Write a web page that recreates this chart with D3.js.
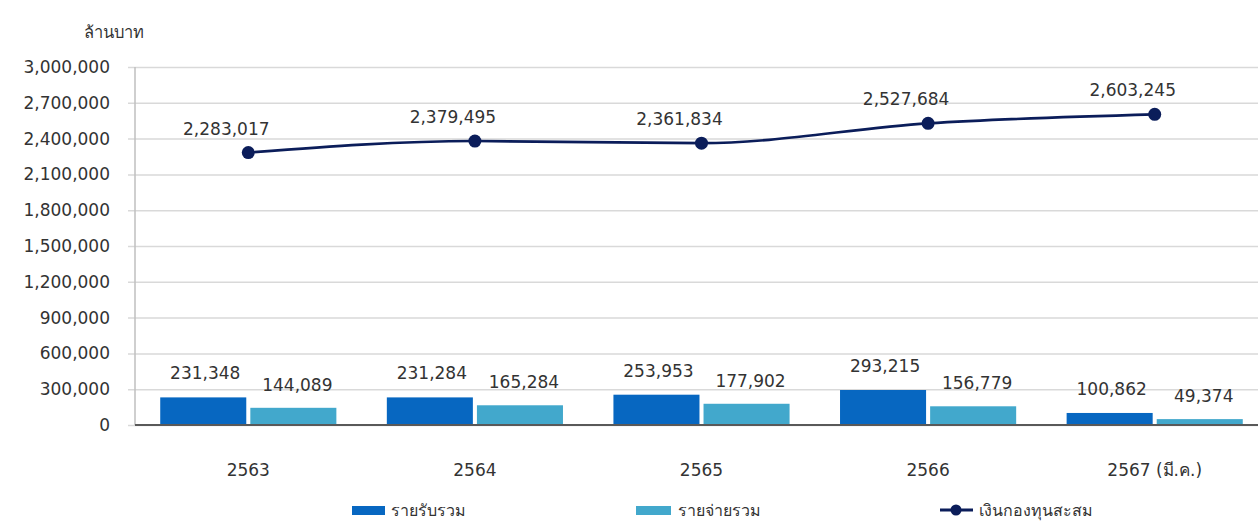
<!DOCTYPE html>
<html>
<head>
<meta charset="utf-8">
<script src="https://cdn.jsdelivr.net/npm/d3@7"></script>
<style>
  body { margin: 0; background: #fff; overflow: hidden; }
  svg { display: block; font-family: "DejaVu Sans", sans-serif; }
</style>
</head>
<body>
<div id="chart"></div>
<script>
const years = ["2563", "2564", "2565", "2566", "2567 (มี.ค.)"];
const income = [231348, 231284, 253953, 293215, 100862];
const expense = [144089, 165284, 177902, 156779, 49374];
const fund = [2283017, 2379495, 2361834, 2527684, 2603245];
const yTicks = [0, 300000, 600000, 900000, 1200000, 1500000, 1800000, 2100000, 2400000, 2700000, 3000000];
const seriesNames = ["รายรับรวม", "รายจ่ายรวม", "เงินกองทุนสะสม"];

const width = 1258, height = 527;
// the original picture is cut off on the right, so the plot runs past the edge
const margin = { top: 67, right: -10, bottom: 102, left: 135 };
const fmt = d3.format(",");
const darkBlue = "#0767c1", lightBlue = "#42a8cc", navy = "#0b1d5a";
const fs = 17;

const svg = d3.select("#chart").append("svg")
    .attr("width", width)
    .attr("height", height);

const x = d3.scaleBand()
    .domain(years)
    .range([margin.left, width - margin.right]);

const y = d3.scaleLinear()
    .domain([0, 3000000])
    .range([height - margin.bottom, margin.top]);

const inner = d3.scaleBand()
    .domain(["income", "expense"])
    .range([0, x.bandwidth()])
    .paddingInner(0.045)
    .paddingOuter(0.28);

const cx = d => x(d) + x.bandwidth() / 2;

// gridlines + y axis
svg.append("g")
    .attr("transform", `translate(${margin.left},0)`)
    .call(d3.axisLeft(y).tickValues(yTicks).tickFormat(fmt)
        .tickSize(-(width - margin.left)).tickPadding(25))
    .attr("font-family", null)
    .call(g => g.select(".domain").remove())
    .call(g => g.selectAll(".tick line").attr("stroke", "#d9d9d9").attr("stroke-width", 1.5).attr("x1", -7))
    .call(g => g.selectAll(".tick text").attr("fill", "#333").attr("font-size", fs));

svg.append("line")
    .attr("x1", margin.left).attr("x2", margin.left)
    .attr("y1", margin.top).attr("y2", y(0))
    .attr("stroke", "#bfbfbf").attr("stroke-width", 1.5);

svg.append("text")
    .attr("x", 84).attr("y", 38)
    .attr("font-size", 16.5).attr("fill", "#333")
    .text("ล้านบาท");

// bars
const groups = svg.append("g")
    .selectAll("g")
    .data(years.map((yr, i) => ({ yr, income: income[i], expense: expense[i] })))
    .join("g")
    .attr("transform", d => `translate(${x(d.yr)},0)`);

groups.append("rect")
    .attr("x", inner("income"))
    .attr("width", inner.bandwidth())
    .attr("y", d => y(d.income))
    .attr("height", d => y(0) - y(d.income))
    .attr("fill", darkBlue);

groups.append("rect")
    .attr("x", inner("expense"))
    .attr("width", inner.bandwidth())
    .attr("y", d => y(d.expense))
    .attr("height", d => y(0) - y(d.expense))
    .attr("fill", lightBlue);

groups.append("text")
    .attr("x", inner("income") + inner.bandwidth() / 2 + 2)
    .attr("y", d => y(d.income) - 18)
    .attr("text-anchor", "middle")
    .attr("font-size", fs).attr("fill", "#333")
    .text(d => fmt(d.income));

groups.append("text")
    .attr("x", inner("expense") + inner.bandwidth() / 2 + 4)
    .attr("y", d => y(d.expense) - 17)
    .attr("text-anchor", "middle")
    .attr("font-size", fs).attr("fill", "#333")
    .text(d => fmt(d.expense));

// baseline
svg.append("line")
    .attr("x1", margin.left).attr("x2", width)
    .attr("y1", y(0)).attr("y2", y(0))
    .attr("stroke", "#595959").attr("stroke-width", 2);

// x labels
svg.append("g")
    .selectAll("text")
    .data(years)
    .join("text")
    .attr("x", cx)
    .attr("y", 476)
    .attr("text-anchor", "middle")
    .attr("font-size", fs).attr("fill", "#333")
    .text(d => d);

// accumulated fund line
const line = d3.line()
    .x((d, i) => cx(years[i]))
    .y(d => y(d))
    .curve(d3.curveMonotoneX);

svg.append("path")
    .datum(fund)
    .attr("fill", "none")
    .attr("stroke", navy)
    .attr("stroke-width", 2.6)
    .attr("d", line);

svg.append("g")
    .selectAll("circle")
    .data(fund)
    .join("circle")
    .attr("cx", (d, i) => cx(years[i]))
    .attr("cy", d => y(d))
    .attr("r", 6.5)
    .attr("fill", navy);

svg.append("g")
    .selectAll("text")
    .data(fund)
    .join("text")
    .attr("x", (d, i) => cx(years[i]) - 22)
    .attr("y", d => y(d) - 18)
    .attr("text-anchor", "middle")
    .attr("font-size", fs).attr("fill", "#333")
    .text(d => fmt(d));

// legend
const legend = svg.append("g").attr("transform", "translate(0,512)");
const legendX = [352, 636, 940];

legend.append("rect").attr("x", legendX[0]).attr("y", -6).attr("width", 33).attr("height", 9).attr("fill", darkBlue);
legend.append("rect").attr("x", legendX[1]).attr("y", -6).attr("width", 35).attr("height", 9).attr("fill", lightBlue);
legend.append("line").attr("x1", legendX[2]).attr("x2", legendX[2] + 33).attr("y1", -2).attr("y2", -2)
    .attr("stroke", navy).attr("stroke-width", 3);
legend.append("circle").attr("cx", legendX[2] + 16).attr("cy", -2).attr("r", 5.5).attr("fill", navy);

legend.selectAll("text.lbl")
    .data(seriesNames)
    .join("text")
    .attr("class", "lbl")
    .attr("x", (d, i) => legendX[i] + (i === 1 ? 42 : 39))
    .attr("y", 4)
    .attr("font-size", 16).attr("fill", "#333")
    .text(d => d);
</script>
</body>
</html>
